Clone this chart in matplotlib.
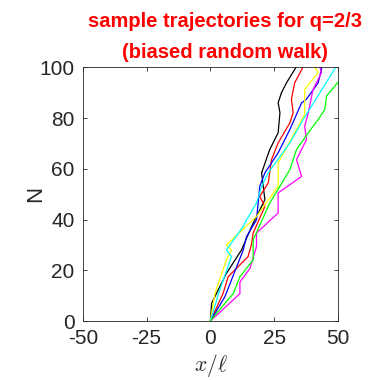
import matplotlib
matplotlib.use('Agg')
import matplotlib.pyplot as plt

# trajectory key points (x/l, N)
black_x = [0, 0.5, 6.3, 12.2, 16.8, 21.4, 20.1, 23.3, 26.6, 27.3, 26.6, 27.9, 29.9, 33.6]
black_n = [0, 7, 18.8, 28, 38.6, 47.8, 58.4, 67.6, 74.2, 82.1, 86, 90, 93.9, 100]

red_x = [0, 5, 7, 14.8, 16.1, 16.8, 21.4, 19.4, 22.7, 24, 26.6, 31.2, 32.5, 31.8, 33.1, 36.3]
red_n = [0, 10.9, 17.5, 25.4, 30, 34.7, 45.2, 49.1, 54.4, 63.6, 70.2, 78.1, 82.1, 87.4, 93.9, 100]

blue_x = [0, 5.7, 12.9, 14.2, 18.1, 19.4, 21.4, 26.6, 31.2, 35.8, 37.7, 42.3, 43.6, 43.6]
blue_n = [0, 9.6, 28, 33.3, 39.9, 53.1, 58.4, 66.3, 75.5, 86, 87.4, 93.9, 99.2, 100]

magenta_x = [0, 11.6, 11.6, 15.5, 18.1, 18.1, 26.6, 26.6, 35.8, 33.8, 37.7, 37, 38.4, 40.3, 43.6, 43]
magenta_n = [0, 10.8, 15.4, 20.7, 29.4, 34.7, 42.6, 50.5, 57, 63.6, 71.5, 76.8, 82, 91.3, 97.9, 100]

yellow_x = [0, 1.8, 6.3, 8.3, 6.3, 18.1, 26.6, 26.6, 37, 37, 42.3, 41]
yellow_n = [0, 10.9, 24.1, 28, 30, 41.2, 53.1, 62.3, 81.4, 91.3, 97.9, 100]

cyan_x = [0, 3.7, 8.3, 6.3, 12.9, 14.2, 18.1, 20.1, 22.7, 31.2, 36.4, 49.2]
cyan_n = [0, 12.3, 25.4, 28, 37.3, 39.9, 46.5, 53.1, 58.4, 70.2, 79.4, 100]

green_x = [0, 2.4, 9, 11.6, 16.8, 16.8, 23.3, 31.2, 33.8, 40.3, 42.3, 44.9, 45.6, 49.9, 55]
green_n = [0, 3, 10.9, 17.5, 24.1, 32, 46.5, 59.7, 67.6, 76.8, 79.4, 83.4, 88.7, 93.9, 100]

x_ticks = [-50, -25, 0, 25, 50]
n_ticks = [0, 20, 40, 60, 80, 100]

plt.rcParams['font.family'] = ['Liberation Sans', 'DejaVu Sans']
plt.rcParams['axes.unicode_minus'] = False
plt.rcParams['mathtext.fontset'] = 'cm'
fig = plt.figure(figsize=(3.7, 3.8), dpi=100)
ax = fig.add_axes([0.224, 0.155, 0.689, 0.668])

lw = 0.9
ax.plot(black_x, black_n, color=(0, 0, 0), lw=lw)
ax.plot(red_x, red_n, color=(1, 0, 0), lw=lw)
ax.plot(blue_x, blue_n, color=(0, 0, 1), lw=lw)
ax.plot(magenta_x, magenta_n, color=(1, 0, 1), lw=lw)
ax.plot(yellow_x, yellow_n, color=(1, 1, 0), lw=lw)
ax.plot(cyan_x, cyan_n, color=(0, 1, 1), lw=lw)
ax.plot(green_x, green_n, color=(0, 1, 0), lw=lw)

ax.set_xlim(-50, 50)
ax.set_ylim(0, 100)
ax.set_xticks(x_ticks)
ax.set_yticks(n_ticks)
gray = (0.15, 0.15, 0.15)
ax.tick_params(direction='in', top=True, right=True, labelsize=15, colors=gray, length=3, width=0.6)
ax.tick_params(axis='x', pad=6)
ax.tick_params(axis='y', pad=6)
for s in ax.spines.values():
    s.set_color(gray)
    s.set_linewidth(0.6)

ax.set_xlabel(r'$x/\ell$', fontsize=15.5, color=gray)
ax.set_ylabel('N', fontsize=16, color=gray)
ax.xaxis.set_label_coords(0.5, -0.12)
ax.yaxis.set_label_coords(-0.145, 0.5)

fig.text(0.608, 0.93, 'sample trajectories for q=2/3', color='r', fontsize=14.5,
         fontweight='bold', ha='center', va='baseline')
fig.text(0.608, 0.848, '(biased random walk)', color='r', fontsize=14.5,
         fontweight='bold', ha='center', va='baseline')

fig.savefig('out.png', dpi=100)
